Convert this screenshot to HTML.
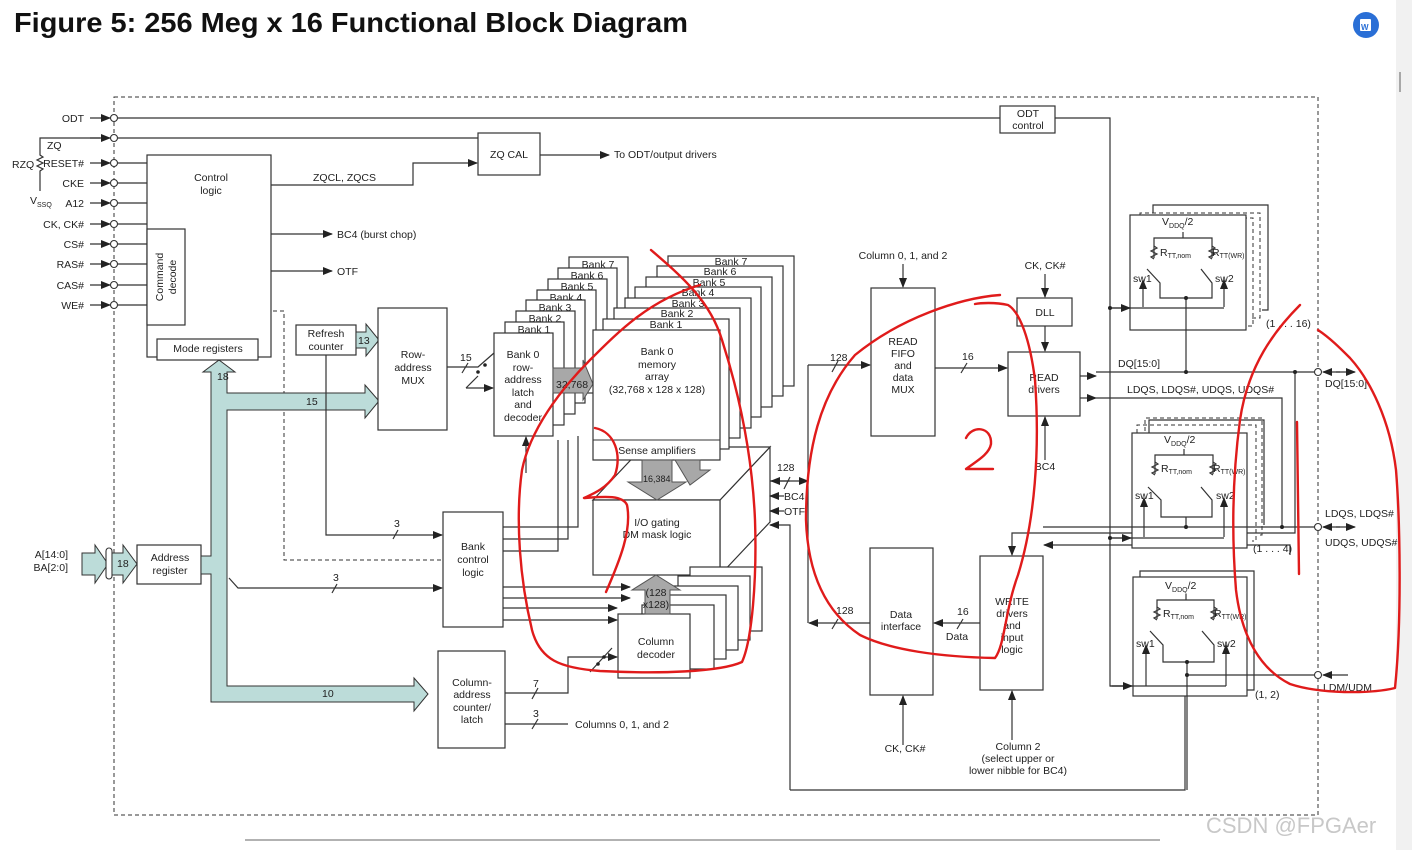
<!DOCTYPE html>
<html><head><meta charset="utf-8"><style>
html,body{margin:0;padding:0;background:#fff;}
svg{display:block;}
text{font-family:"Liberation Sans",sans-serif;font-size:10.5px;fill:#222;}
.t{font-size:28px;font-weight:bold;fill:#111;}
.b{fill:#fff;stroke:#333;stroke-width:1.2;}
.l{fill:none;stroke:#333;stroke-width:1.2;}
.d{fill:none;stroke:#333;stroke-width:1;stroke-dasharray:4,3;}
.teal{fill:#bcdcd9;stroke:#333;stroke-width:1;}
.gray{fill:#a8a8a8;stroke:#555;stroke-width:1;}
.r{fill:none;stroke:#e01b1b;stroke-width:2.4;stroke-linecap:round;stroke-linejoin:round;}
.c{fill:#fff;stroke:#333;stroke-width:1.1;}
</style></head><body>
<svg width="1412" height="850" viewBox="0 0 1412 850" xmlns="http://www.w3.org/2000/svg">
<defs>
<marker id="a" markerWidth="10" markerHeight="8" refX="9" refY="4" orient="auto" markerUnits="userSpaceOnUse"><path d="M0,0 L10,4 L0,8 z" fill="#222"/></marker>
</defs>
<rect x="1396" y="0" width="16" height="850" fill="#f1f1f1"/>
<line x1="1400" y1="72" x2="1400" y2="92" stroke="#777" stroke-width="1.2"/>
<text x="14" y="32" class="t" textLength="674" lengthAdjust="spacingAndGlyphs">Figure 5: 256 Meg x 16 Functional Block Diagram</text>
<circle cx="1366" cy="25" r="13" fill="#2a6fd6"/>
<rect x="1360" y="19" width="11" height="12" fill="#fff" rx="1"/>
<text x="1361" y="30" style="font-size:8px;font-weight:bold;fill:#2a6fd6">W</text>

<rect x="114" y="97" width="1204" height="718" class="d"/>
<line x1="245" y1="840" x2="1160" y2="840" stroke="#999" stroke-width="1.5"/>
<text x="1206" y="833" style="font-size:22px;fill:#c8c8c8">CSDN @FPGAer</text>

<!-- left pins -->
<g>
<text x="84" y="122" text-anchor="end">ODT</text>
<text x="84" y="167" text-anchor="end">RESET#</text>
<text x="84" y="187" text-anchor="end">CKE</text>
<text x="84" y="207" text-anchor="end">A12</text>
<text x="84" y="228" text-anchor="end">CK, CK#</text>
<text x="84" y="248" text-anchor="end">CS#</text>
<text x="84" y="268" text-anchor="end">RAS#</text>
<text x="84" y="289" text-anchor="end">CAS#</text>
<text x="84" y="309" text-anchor="end">WE#</text>
<text x="47" y="149">ZQ</text>
<text x="12" y="168">RZQ</text>
<text x="30" y="204">V<tspan style="font-size:7px" dy="3">SSQ</tspan></text>
<path class="l" d="M100,138 H40 V155 l3,2 -6,3 6,3 -6,3 6,3 -3,2 V191"/>
</g>
<g class="l" marker-end="url(#a)">
<line x1="90" y1="118" x2="110" y2="118"/>
<line x1="90" y1="138" x2="110" y2="138"/>
<line x1="90" y1="163" x2="110" y2="163"/>
<line x1="90" y1="183" x2="110" y2="183"/>
<line x1="90" y1="203" x2="110" y2="203"/>
<line x1="90" y1="224" x2="110" y2="224"/>
<line x1="90" y1="244" x2="110" y2="244"/>
<line x1="90" y1="264" x2="110" y2="264"/>
<line x1="90" y1="285" x2="110" y2="285"/>
<line x1="90" y1="305" x2="110" y2="305"/>
</g>
<g class="l">
<path d="M118,163 H147 M118,183 H147 M118,203 H147 M118,224 H147 M118,244 H147 M118,264 H147 M118,285 H147 M118,305 H147"/>
<path d="M118,118 H1000 M118,138 H478"/>
</g>
<g>
<circle cx="114" cy="118" r="3.5" class="c"/><circle cx="114" cy="138" r="3.5" class="c"/>
<circle cx="114" cy="163" r="3.5" class="c"/><circle cx="114" cy="183" r="3.5" class="c"/>
<circle cx="114" cy="203" r="3.5" class="c"/><circle cx="114" cy="224" r="3.5" class="c"/>
<circle cx="114" cy="244" r="3.5" class="c"/><circle cx="114" cy="264" r="3.5" class="c"/>
<circle cx="114" cy="285" r="3.5" class="c"/><circle cx="114" cy="305" r="3.5" class="c"/>
</g>

<!-- control logic -->
<rect x="147" y="155" width="124" height="202" class="b"/>
<text x="211" y="181" text-anchor="middle">Control</text><text x="211" y="194" text-anchor="middle">logic</text>
<rect x="147" y="229" width="38" height="96" class="b"/>
<text transform="translate(163,277) rotate(-90)" text-anchor="middle">Command</text>
<text transform="translate(176,277) rotate(-90)" text-anchor="middle">decode</text>
<rect x="157" y="339" width="101" height="21" class="b"/>
<text x="208" y="352" text-anchor="middle">Mode registers</text>
<path class="l" d="M271,185 H413 V163 H477" marker-end="url(#a)"/>
<text x="313" y="181">ZQCL, ZQCS</text>
<rect x="478" y="133" width="62" height="42" class="b"/>
<text x="509" y="158" text-anchor="middle">ZQ CAL</text>
<path class="l" d="M540,155 H609" marker-end="url(#a)"/>
<text x="614" y="158">To ODT/output drivers</text>
<line class="l" x1="271" y1="234" x2="332" y2="234" marker-end="url(#a)"/>
<line class="l" x1="271" y1="271" x2="332" y2="271" marker-end="url(#a)"/>
<text x="337" y="238">BC4 (burst chop)</text><text x="337" y="275">OTF</text>
<path class="d" d="M273,311 H284 V560 H443"/>

<rect x="1000" y="106" width="55" height="27" class="b"/>
<text x="1028" y="117" text-anchor="middle">ODT</text><text x="1028" y="129" text-anchor="middle">control</text>
<path class="l" d="M1055,118 H1110 V686 H1130"/>

<!-- teal bus -->
<path class="teal" d="M82,553 H95 V545 L108,564 95,583 V575 H82 z"/>
<rect x="106" y="548" width="6" height="31" rx="3" class="c"/>
<path class="teal" d="M112,553 H123 V545 L137,564 123,583 V575 H112 z"/>
<text x="117" y="567">18</text>
<text x="68" y="558" text-anchor="end">A[14:0]</text><text x="68" y="571" text-anchor="end">BA[2:0]</text>
<rect x="137" y="545" width="64" height="39" class="b"/>
<text x="170" y="561" text-anchor="middle">Address</text><text x="170" y="574" text-anchor="middle">register</text>
<path class="teal" d="M201,556 H211 V372 H203 L219,360 235,372 H227 V393 H365 V385 L379,401 365,418 V410 H227 V686 H414 V678 L428,694 414,711 V702 H211 V574 H201 z"/>
<text x="217" y="380">18</text><text x="306" y="405">15</text><text x="322" y="697">10</text>

<rect x="296" y="325" width="60" height="30" class="b"/>
<text x="326" y="337" text-anchor="middle">Refresh</text><text x="326" y="350" text-anchor="middle">counter</text>
<path class="teal" d="M356,332 H366 V324 L379,340 366,356 V348 H356 z"/><text x="358" y="344">13</text>
<rect x="378" y="308" width="69" height="122" class="b"/>
<text x="413" y="358" text-anchor="middle">Row-</text><text x="413" y="371" text-anchor="middle">address</text><text x="413" y="384" text-anchor="middle">MUX</text>
<path class="l" d="M447,367 H478 L494,353"/>
<path class="l" d="M466,388 L478,376"/>
<line class="l" x1="466" y1="388" x2="493" y2="388" marker-end="url(#a)"/>
<text x="460" y="361">15</text><path class="l" d="M462,373 L468,363"/>
<circle cx="478" cy="372" r="1.8" fill="#222"/><circle cx="485" cy="365" r="1.8" fill="#222"/>
<path class="l" d="M326,355 V535 H442" marker-end="url(#a)"/>
<text x="394" y="527">3</text><path class="l" d="M393,539 L398,530"/>
<path class="l" d="M229,578 L238,588 H442" marker-end="url(#a)"/>
<text x="333" y="581">3</text><path class="l" d="M332,593 L337,584"/>

<rect x="443" y="512" width="60" height="115" class="b"/>
<text x="473" y="550" text-anchor="middle">Bank</text><text x="473" y="563" text-anchor="middle">control</text><text x="473" y="576" text-anchor="middle">logic</text>

<!-- row latch stack -->
<g>
<rect x="569" y="257" width="59" height="103" class="b"/><text x="598" y="268" text-anchor="middle">Bank 7</text>
<rect x="558" y="268" width="59" height="103" class="b"/><text x="587" y="279" text-anchor="middle">Bank 6</text>
<rect x="548" y="279" width="59" height="103" class="b"/><text x="577" y="290" text-anchor="middle">Bank 5</text>
<rect x="537" y="290" width="59" height="103" class="b"/><text x="566" y="301" text-anchor="middle">Bank 4</text>
<rect x="526" y="300" width="59" height="103" class="b"/><text x="555" y="311" text-anchor="middle">Bank 3</text>
<rect x="516" y="311" width="59" height="103" class="b"/><text x="545" y="322" text-anchor="middle">Bank 2</text>
<rect x="505" y="322" width="59" height="103" class="b"/><text x="534" y="333" text-anchor="middle">Bank 1</text>
<rect x="494" y="333" width="59" height="103" class="b"/>
<text x="523" y="358" text-anchor="middle">Bank 0</text><text x="523" y="371" text-anchor="middle">row-</text><text x="523" y="383" text-anchor="middle">address</text><text x="523" y="396" text-anchor="middle">latch</text><text x="523" y="408" text-anchor="middle">and</text><text x="523" y="421" text-anchor="middle">decoder</text>
</g>
<path class="l" d="M503,527 H578 V436 M503,539 H568 V440 M503,551 H558 V440"/>
<path class="l" d="M526,473 V437" marker-end="url(#a)"/>
<path class="gray" d="M553,368 H583 V360 L593,384 583,400 V393 H553 z"/><text x="556" y="388">32,768</text>

<!-- IO gating cube (behind memory) -->
<path class="b" d="M720,500 L770,447 V522 L720,575 z"/>
<path class="b" d="M593,500 L643,447 H770 L720,500 z"/>
<rect x="593" y="500" width="127" height="75" class="b"/>
<text x="657" y="526" text-anchor="middle">I/O gating</text><text x="657" y="538" text-anchor="middle">DM mask logic</text>

<!-- memory array stack -->
<g>
<rect x="668" y="256" width="126" height="130" class="b"/><text x="731" y="265" text-anchor="middle">Bank 7</text>
<rect x="657" y="266" width="126" height="130" class="b"/><text x="720" y="275" text-anchor="middle">Bank 6</text>
<rect x="646" y="277" width="126" height="130" class="b"/><text x="709" y="286" text-anchor="middle">Bank 5</text>
<rect x="635" y="287" width="126" height="130" class="b"/><text x="698" y="296" text-anchor="middle">Bank 4</text>
<rect x="625" y="298" width="126" height="130" class="b"/><text x="688" y="307" text-anchor="middle">Bank 3</text>
<rect x="614" y="308" width="126" height="130" class="b"/><text x="677" y="317" text-anchor="middle">Bank 2</text>
<rect x="603" y="319" width="126" height="130" class="b"/><text x="666" y="328" text-anchor="middle">Bank 1</text>
<rect x="593" y="330" width="127" height="130" class="b"/>
<line x1="593" y1="440" x2="720" y2="440" stroke="#333"/>
<text x="657" y="355" text-anchor="middle">Bank 0</text><text x="657" y="368" text-anchor="middle">memory</text><text x="657" y="380" text-anchor="middle">array</text><text x="657" y="393" text-anchor="middle">(32,768 x 128 x 128)</text>
<text x="657" y="454" text-anchor="middle">Sense amplifiers</text>
</g>
<path class="gray" d="M675,460 H700 V470 L710,470 690,485 z"/>
<path class="gray" d="M642,460 H672 V482 H686 L657,500 628,482 H642 z"/><text x="643" y="482" style="font-size:9px">16,384</text>
<line class="l" x1="770" y1="481" x2="808" y2="481" marker-end="url(#a)"/>
<line class="l" x1="790" y1="481" x2="771" y2="481" marker-end="url(#a)"/>
<text x="777" y="471">128</text><path class="l" d="M784,489 L790,477"/>
<path class="l" d="M784,496 H770" marker-end="url(#a)"/><text x="784" y="500">BC4</text>
<path class="l" d="M784,511 H770" marker-end="url(#a)"/><text x="784" y="515">OTF</text>
<path class="l" d="M790,790 V525 H770" marker-end="url(#a)"/>
<path class="l" d="M790,790 H1185 V686"/>

<!-- column decoder stack -->
<g>
<rect x="690" y="567" width="72" height="64" class="b"/>
<rect x="678" y="576" width="72" height="64" class="b"/>
<rect x="666" y="586" width="72" height="64" class="b"/>
<rect x="654" y="595" width="72" height="64" class="b"/>
<rect x="642" y="605" width="72" height="64" class="b"/>
<rect x="618" y="614" width="72" height="64" class="b"/>
<text x="656" y="645" text-anchor="middle">Column</text><text x="656" y="658" text-anchor="middle">decoder</text>
</g>
<path class="gray" d="M645,614 V590 H632 L656,575 680,590 H670 V614 z"/><text x="656" y="596" text-anchor="middle">(128</text><text x="656" y="608" text-anchor="middle">x128)</text>
<g class="l" marker-end="url(#a)">
<line x1="503" y1="587" x2="630" y2="587"/>
<line x1="503" y1="598" x2="630" y2="598"/>
<line x1="503" y1="608" x2="617" y2="608"/>
<line x1="503" y1="620" x2="617" y2="620"/>
</g>
<path class="l" d="M505,693 H568 V657 H617" marker-end="url(#a)"/>
<path class="l" d="M590,672 L612,648"/><circle cx="598" cy="664" r="1.8" fill="#222"/><circle cx="604" cy="657" r="1.8" fill="#222"/>
<text x="533" y="687">7</text><path class="l" d="M532,699 L538,688"/>

<rect x="438" y="651" width="67" height="97" class="b"/>
<text x="472" y="686" text-anchor="middle">Column-</text><text x="472" y="698" text-anchor="middle">address</text><text x="472" y="711" text-anchor="middle">counter/</text><text x="472" y="723" text-anchor="middle">latch</text>
<path class="l" d="M505,724 H568"/><text x="533" y="717">3</text><path class="l" d="M532,729 L538,719"/>
<text x="575" y="728">Columns 0, 1, and 2</text>

<!-- read/write path -->
<path class="l" d="M808,365 V623"/>
<path class="l" d="M808,365 H870" marker-end="url(#a)"/>
<text x="830" y="361">128</text><path class="l" d="M832,372 L838,361"/>
<rect x="871" y="288" width="64" height="148" class="b"/>
<text x="903" y="345" text-anchor="middle">READ</text><text x="903" y="357" text-anchor="middle">FIFO</text><text x="903" y="369" text-anchor="middle">and</text><text x="903" y="381" text-anchor="middle">data</text><text x="903" y="393" text-anchor="middle">MUX</text>
<text x="903" y="259" text-anchor="middle">Column 0, 1, and 2</text>
<path class="l" d="M903,264 V287" marker-end="url(#a)"/>
<path class="l" d="M935,368 H1007" marker-end="url(#a)"/>
<text x="962" y="360">16</text><path class="l" d="M961,373 L967,363"/>
<rect x="1017" y="298" width="55" height="28" class="b"/><text x="1045" y="316" text-anchor="middle">DLL</text>
<text x="1045" y="269" text-anchor="middle">CK, CK#</text>
<line class="l" x1="1045" y1="274" x2="1045" y2="297" marker-end="url(#a)"/>
<line class="l" x1="1045" y1="326" x2="1045" y2="351" marker-end="url(#a)"/>
<rect x="1008" y="352" width="72" height="64" class="b"/>
<text x="1044" y="381" text-anchor="middle">READ</text><text x="1044" y="393" text-anchor="middle">drivers</text>
<path class="l" d="M1045,460 V417" marker-end="url(#a)"/><text x="1045" y="470" text-anchor="middle">BC4</text>
<line class="l" x1="1080" y1="376" x2="1096" y2="376" marker-end="url(#a)"/>
<line class="l" x1="1080" y1="398" x2="1096" y2="398" marker-end="url(#a)"/>
<path class="l" d="M1096,372 H1314 M1096,398 H1282 V527"/>
<text x="1118" y="367">DQ[15:0]</text>
<text x="1127" y="393">LDQS, LDQS#, UDQS, UDQS#</text>
<rect x="870" y="548" width="63" height="147" class="b"/>
<text x="901" y="618" text-anchor="middle">Data</text><text x="901" y="630" text-anchor="middle">interface</text>
<path class="l" d="M870,623 H809" marker-end="url(#a)"/>
<text x="836" y="614">128</text><path class="l" d="M832,629 L838,619"/>
<path class="l" d="M980,623 H934" marker-end="url(#a)"/>
<text x="957" y="615">16</text><path class="l" d="M957,629 L963,619"/><text x="957" y="640" text-anchor="middle">Data</text>
<path class="l" d="M903,745 V696" marker-end="url(#a)"/><text x="905" y="752" text-anchor="middle">CK, CK#</text>
<rect x="980" y="556" width="63" height="134" class="b"/>
<text x="1012" y="605" text-anchor="middle">WRITE</text><text x="1012" y="617" text-anchor="middle">drivers</text><text x="1012" y="629" text-anchor="middle">and</text><text x="1012" y="641" text-anchor="middle">input</text><text x="1012" y="653" text-anchor="middle">logic</text>
<path class="l" d="M1012,740 V691" marker-end="url(#a)"/>
<text x="1018" y="750" text-anchor="middle">Column 2</text><text x="1018" y="762" text-anchor="middle">(select upper or</text><text x="1018" y="774" text-anchor="middle">lower nibble for BC4)</text>
<path class="l" d="M1295,372 V533 H1012 V555" marker-end="url(#a)"/>
<path class="l" d="M1290,555 V545 H1044" marker-end="url(#a)"/>

<!-- termination blocks -->
<g>
<path class="l" d="M1153,213 V205 H1268 V310 H1262"/>
<path class="d" d="M1140,222 V213 H1260 V318 H1252"/>
<path class="d" d="M1133,220 V218 H1253 V326 H1247"/>
<rect x="1130" y="215" width="116" height="115" class="b"/>
<text x="1162" y="225">V<tspan style="font-size:7px" dy="3">DDQ</tspan><tspan dy="-3">/2</tspan></text>
<path class="l" d="M1154,258 V238 H1212 V258 M1183,238 V232"/>
<path class="l" d="M1154,246 l3,2 -6,3 6,3 -6,3 3,2"/><path class="l" d="M1212,246 l3,2 -6,3 6,3 -6,3 3,2"/>
<text x="1160" y="256">R<tspan style="font-size:7px" dy="2">TT,nom</tspan></text><text x="1212" y="256">R<tspan style="font-size:7px" dy="2">TT(WR)</tspan></text>
<path class="l" d="M1147,269 L1160,283 V298 H1212 V283 L1201,269 M1186,298 V372"/>
<line class="l" x1="1143" y1="307" x2="1143" y2="280" marker-end="url(#a)"/>
<line class="l" x1="1224" y1="307" x2="1224" y2="280" marker-end="url(#a)"/>
<path class="l" d="M1110,308 H1224"/>
<path class="l" d="M1112,308 H1130" marker-end="url(#a)"/>
<text x="1133" y="282">sw1</text><text x="1215" y="282">sw2</text>
<circle cx="1186" cy="298" r="2" fill="#222"/><circle cx="1186" cy="372" r="2" fill="#222"/><circle cx="1110" cy="308" r="2" fill="#222"/>
<text x="1266" y="327">(1 . . . 16)</text>
</g>
<g>
<path class="l" d="M1149,440 V420 H1264 V525"/>
<path class="d" d="M1145,438 V418 H1262 V535 H1257"/>
<path class="d" d="M1137,440 V425 H1256 V541 H1252"/>
<rect x="1132" y="433" width="115" height="115" class="b"/>
<text x="1164" y="443">V<tspan style="font-size:7px" dy="3">DDQ</tspan><tspan dy="-3">/2</tspan></text>
<path class="l" d="M1155,474 V455 H1213 V474 M1184,455 V449"/>
<path class="l" d="M1155,462 l3,2 -6,3 6,3 -6,3 3,2"/><path class="l" d="M1213,462 l3,2 -6,3 6,3 -6,3 3,2"/>
<text x="1161" y="472">R<tspan style="font-size:7px" dy="2">TT,nom</tspan></text><text x="1213" y="472">R<tspan style="font-size:7px" dy="2">TT(WR)</tspan></text>
<path class="l" d="M1148,487 L1161,500 V517 H1212 V500 L1201,487 M1186,517 V527"/>
<line class="l" x1="1144" y1="537" x2="1144" y2="498" marker-end="url(#a)"/>
<line class="l" x1="1224" y1="537" x2="1224" y2="498" marker-end="url(#a)"/>
<path class="l" d="M1110,538 H1224"/>
<path class="l" d="M1112,538 H1131" marker-end="url(#a)"/>
<text x="1135" y="499">sw1</text><text x="1216" y="499">sw2</text>
<path class="l" d="M1043,527 H1314"/>
<circle cx="1186" cy="527" r="2" fill="#222"/><circle cx="1282" cy="527" r="2" fill="#222"/><circle cx="1295" cy="372" r="2" fill="#222"/><circle cx="1110" cy="538" r="2" fill="#222"/>
<text x="1253" y="552">(1 . . . 4)</text>
</g>
<g>
<path class="l" d="M1140,577 V571 H1254 V690 H1247"/>
<rect x="1133" y="577" width="114" height="119" class="b"/>
<text x="1165" y="589">V<tspan style="font-size:7px" dy="3">DDQ</tspan><tspan dy="-3">/2</tspan></text>
<path class="l" d="M1157,619 V600 H1214 V619 M1186,600 V594"/>
<path class="l" d="M1157,607 l3,2 -6,3 6,3 -6,3 3,2"/><path class="l" d="M1214,607 l3,2 -6,3 6,3 -6,3 3,2"/>
<text x="1163" y="617">R<tspan style="font-size:7px" dy="2">TT,nom</tspan></text><text x="1214" y="617">R<tspan style="font-size:7px" dy="2">TT(WR)</tspan></text>
<path class="l" d="M1150,631 L1163,645 V662 H1214 V645 L1202,631 M1187,662 V790"/>
<line class="l" x1="1146" y1="686" x2="1146" y2="645" marker-end="url(#a)"/>
<line class="l" x1="1226" y1="686" x2="1226" y2="645" marker-end="url(#a)"/>
<path class="l" d="M1110,686 H1226 M1187,675 H1314"/>
<path class="l" d="M1112,686 H1132" marker-end="url(#a)"/>
<text x="1136" y="647">sw1</text><text x="1217" y="647">sw2</text>
<circle cx="1187" cy="662" r="2" fill="#222"/><circle cx="1187" cy="675" r="2" fill="#222"/>
<text x="1255" y="698">(1, 2)</text>
</g>
<!-- right pins -->
<circle cx="1318" cy="372" r="3.5" class="c"/><circle cx="1318" cy="527" r="3.5" class="c"/><circle cx="1318" cy="675" r="3.5" class="c"/>
<g class="l" marker-end="url(#a)">
<line x1="1340" y1="372" x2="1323" y2="372"/><line x1="1336" y1="372" x2="1355" y2="372"/>
<line x1="1340" y1="527" x2="1323" y2="527"/><line x1="1336" y1="527" x2="1355" y2="527"/>
<line x1="1348" y1="675" x2="1323" y2="675"/>
</g>
<text x="1325" y="387">DQ[15:0]</text>
<text x="1325" y="517">LDQS, LDQS#</text><text x="1325" y="546">UDQS, UDQS#</text>
<text x="1323" y="691">LDM/UDM</text>

<!-- red annotations -->
<path class="r" d="M651,250 C680,275 710,300 722,340 C738,390 752,450 755,520 C757,580 752,640 742,662 C720,672 660,674 600,671 C560,668 540,660 532,630 C520,580 515,520 522,470 C530,430 560,390 590,360 C620,330 650,300 700,285"/>
<path class="r" d="M595,428 C615,432 622,455 615,475 C605,490 590,495 584,498 C600,497 622,494 627,505 C632,530 620,560 606,592"/>
<path class="r" d="M1000,295 C960,298 900,318 855,355 C820,395 806,450 806,520 C808,580 830,615 860,635 C890,650 940,657 995,658 C1005,645 1005,610 1018,575 C1035,520 1040,450 1035,380 C1030,340 1020,312 1008,305 C995,302 980,303 975,304"/>
<path class="r" d="M966,438 C972,425 992,426 991,444 C989,455 975,462 966,469 L993,469"/>
<path class="r" d="M1300,305 C1275,330 1248,365 1240,420 C1232,480 1232,540 1236,590 C1242,640 1262,670 1290,684 C1320,694 1370,694 1395,688 C1402,620 1400,520 1396,470 C1390,420 1370,380 1350,358 C1340,348 1330,338 1318,330"/>
<path class="r" d="M1297,422 L1299,574"/>
</svg>
</body></html>
